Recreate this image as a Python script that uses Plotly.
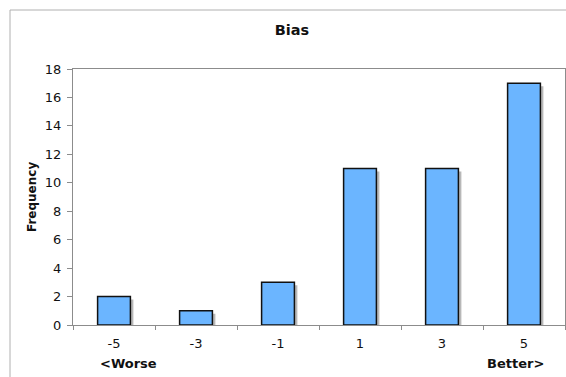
import plotly.graph_objects as go

# Score categories and how often each occurred
scores = [-5, -3, -1, 1, 3, 5]
frequency = [2, 1, 3, 11, 11, 17]
y_ticks = [0, 2, 4, 6, 8, 10, 12, 14, 16, 18]
category_edges = [-6, -4, -2, 0, 2, 4, 6]

FONT = "DejaVu Sans"
BAR_FILL = "#6BB5FF"
SHADOW = "#B8B8B8"

W, H = 566, 377
ML, MR, MT, MB = 73, 1, 69, 52
plot_w = W - ML - MR
plot_h = H - MT - MB

x_range = [-6, 6]
y_range = [0, 18]
px_per_x = plot_w / (x_range[1] - x_range[0])
px_per_y = plot_h / (y_range[1] - y_range[0])

# drop shadow: a grey copy of each bar nudged 3px right and 3px down
shift_x = 3 / px_per_x
shift_y = 3 / px_per_y

fig = go.Figure()
fig.add_trace(go.Bar(
    x=[s + shift_x for s in scores],
    y=[f - shift_y for f in frequency],
    width=0.8,
    marker=dict(color=SHADOW, line=dict(width=0)),
    hoverinfo="skip",
    showlegend=False,
))
fig.add_trace(go.Bar(
    x=scores,
    y=frequency,
    width=0.8,
    marker=dict(color=BAR_FILL, line=dict(color="#111111", width=1.5)),
    showlegend=False,
))

fig.update_layout(
    width=W, height=H,
    margin=dict(l=ML, r=MR, t=MT, b=MB, pad=0),
    barmode="overlay",
    paper_bgcolor="white",
    plot_bgcolor="white",
    font=dict(family=FONT, size=13, color="#111111"),
    title=dict(
        text="<b>Bias</b>", x=292 / W, xref="container", xanchor="center",
        y=1 - 30 / H, yref="container", yanchor="middle",
        font=dict(family=FONT, size=14.5, color="#111111"),
    ),
    xaxis=dict(
        range=x_range, tickvals=scores, ticktext=[str(s) for s in scores],
        ticks="", showgrid=False, zeroline=False,
        showline=True, linecolor="#8C8C8C", linewidth=1, mirror=True,
        tickfont=dict(family=FONT, size=13, color="#111111"),
        ticklabelstandoff=6,
        minor=dict(tickvals=category_edges, ticks="outside", ticklen=4,
                   tickcolor="#8C8C8C", showgrid=False),
    ),
    yaxis=dict(
        range=y_range, tickvals=y_ticks, ticks="outside", ticklen=5,
        tickcolor="#8C8C8C", showgrid=False, zeroline=False,
        showline=True, linecolor="#8C8C8C", linewidth=1, mirror=True,
        tickfont=dict(family=FONT, size=13, color="#111111"),
        ticklabelstandoff=3,
    ),
    shapes=[dict(
        type="rect", xref="paper", yref="paper",
        x0=(10 - ML) / plot_w, x1=(W + 20 - ML) / plot_w,
        y0=(plot_h + MT - (H + 20)) / plot_h, y1=(plot_h + MT - 10) / plot_h,
        line=dict(color="#B0B0B0", width=1), layer="below",
    )],
    annotations=[
        dict(text="<b>Frequency</b>", textangle=-90, xref="paper", yref="paper",
             x=(32 - ML) / plot_w, y=0.5, showarrow=False,
             xanchor="center", yanchor="middle",
             font=dict(family=FONT, size=12, color="#111111")),
        dict(text="<b>&lt;Worse</b>", xref="x", yref="paper",
             x=-5 + (128 - 114) / px_per_x, y=-(363 - (MT + plot_h)) / plot_h,
             showarrow=False, xanchor="center", yanchor="middle",
             font=dict(family=FONT, size=13, color="#111111")),
        dict(text="<b>Better&gt;</b>", xref="x", yref="paper",
             x=5 + (515 - 524) / px_per_x, y=-(363 - (MT + plot_h)) / plot_h,
             showarrow=False, xanchor="center", yanchor="middle",
             font=dict(family=FONT, size=13, color="#111111")),
    ],
)

fig.write_html("out.html")
